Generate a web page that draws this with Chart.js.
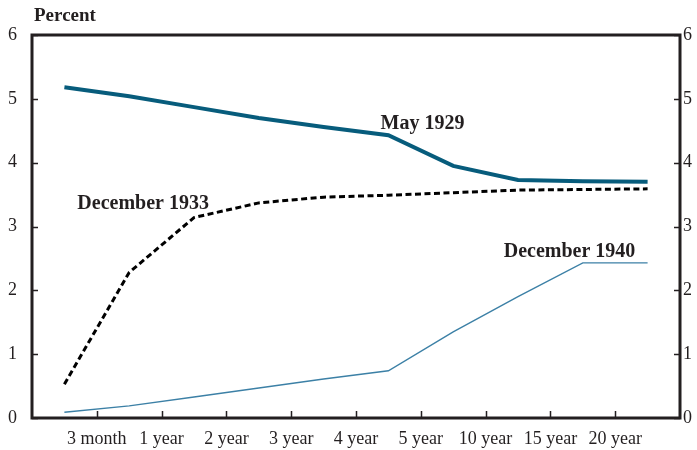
<!DOCTYPE html>
<html>
<head>
<meta charset="utf-8">
<script src="https://cdn.jsdelivr.net/npm/chart.js@4/dist/chart.umd.min.js"></script>
<style>
  html, body { margin: 0; padding: 0; background: #fff; }
  #wrap { width: 697px; height: 450px; }
</style>
</head>
<body>
<div id="wrap"><canvas id="yieldChart"></canvas></div>
<script>
// ---------------- Data ----------------
const maturities = ["3 month", "1 year", "2 year", "3 year", "4 year", "5 year", "10 year", "15 year", "20 year"];
const may1929 = [5.18, 5.04, 4.87, 4.70, 4.56, 4.43, 3.95, 3.73, 3.71, 3.70];
const dec1933 = [0.53, 2.28, 3.14, 3.37, 3.46, 3.49, 3.53, 3.57, 3.58, 3.59];
const dec1940 = [0.09, 0.19, 0.33, 0.47, 0.61, 0.74, 1.35, 1.90, 2.43, 2.43];
const yTicks = [0, 1, 2, 3, 4, 5, 6];

const INK = "#231f20";
const SERIF = "'Liberation Serif', 'DejaVu Serif', serif";

const toPoints = arr => arr.map((v, i) => ({ x: i, y: v }));
const tickPos = maturities.map((_, i) => i + 0.5);

// ---------------- Frame, inner ticks, labels ----------------
const framePlugin = {
  id: "frame",
  afterDraw(chart) {
    const { ctx, chartArea: a, scales } = chart;
    ctx.save();
    ctx.strokeStyle = INK;
    ctx.lineWidth = 1.5;
    // inner tick marks
    ctx.beginPath();
    tickPos.forEach(v => {
      const x = Math.round(scales.x.getPixelForValue(v)) + 0.5;
      ctx.moveTo(x, a.bottom);
      ctx.lineTo(x, a.bottom - 7);
    });
    yTicks.forEach(v => {
      const y = Math.round(scales.y.getPixelForValue(v)) + 0.5;
      ctx.moveTo(a.left, y);
      ctx.lineTo(a.left + 6, y);
      ctx.moveTo(a.right, y);
      ctx.lineTo(a.right - 6, y);
    });
    ctx.stroke();
    // frame
    ctx.lineWidth = 3;
    ctx.strokeRect(a.left, a.top, a.right - a.left, a.bottom - a.top);

    // texts
    ctx.fillStyle = INK;
    ctx.textAlign = "left";
    ctx.textBaseline = "alphabetic";
    ctx.font = "bold 19px " + SERIF;
    ctx.fillText("Percent", 34, 21);

    const px = v => scales.x.getPixelForValue(v);
    const py = v => scales.y.getPixelForValue(v);
    ctx.font = "bold 20px " + SERIF;
    ctx.fillText("May 1929", px(4.88), py(4.53));
    ctx.fillText("December 1933", px(0.2), py(3.27));
    ctx.fillText("December 1940", px(6.78), py(2.52));
    ctx.restore();
  }
};

// ---------------- Chart ----------------
new Chart(document.getElementById("yieldChart"), {
  type: "line",
  data: {
    datasets: [
      {
        label: "May 1929",
        data: toPoints(may1929),
        borderColor: "#075c7c",
        borderWidth: 4,
        pointRadius: 0,
        tension: 0
      },
      {
        label: "December 1933",
        data: toPoints(dec1933),
        borderColor: "#000000",
        borderWidth: 3,
        borderDash: [6, 3.5],
        pointRadius: 0,
        tension: 0
      },
      {
        label: "December 1940",
        data: toPoints(dec1940),
        borderColor: "#3c80a6",
        borderWidth: 1.4,
        pointRadius: 0,
        tension: 0
      }
    ]
  },
  options: {
    responsive: true,
    maintainAspectRatio: false,
    animation: false,
    layout: { padding: { top: 35, left: 0, right: 0, bottom: 0 } },
    plugins: { legend: { display: false }, tooltip: { enabled: false } },
    scales: {
      x: {
        type: "linear",
        min: -0.5,
        max: 9.5,
        afterBuildTicks: s => { s.ticks = tickPos.map(v => ({ value: v })); },
        afterFit: s => { s.height = 32; },
        grid: { display: false, drawTicks: false },
        border: { display: false },
        ticks: {
          autoSkip: false,
          maxRotation: 0,
          padding: 10,
          color: INK,
          font: { family: SERIF, size: 18 },
          callback: (v, i) => maturities[i]
        }
      },
      y: {
        position: "left",
        min: 0,
        max: 6,
        afterBuildTicks: s => { s.ticks = yTicks.map(v => ({ value: v })); },
        afterFit: s => { s.width = 32; },
        grid: { display: false, drawTicks: false },
        border: { display: false },
        ticks: { padding: 15, color: INK, font: { family: SERIF, size: 18 } }
      },
      y2: {
        position: "right",
        min: 0,
        max: 6,
        afterBuildTicks: s => { s.ticks = yTicks.map(v => ({ value: v })); },
        afterFit: s => { s.width = 17; },
        grid: { display: false, drawTicks: false },
        border: { display: false },
        ticks: { padding: 3, color: INK, font: { family: SERIF, size: 18 } }
      }
    }
  },
  plugins: [framePlugin]
});
</script>
</body>
</html>
